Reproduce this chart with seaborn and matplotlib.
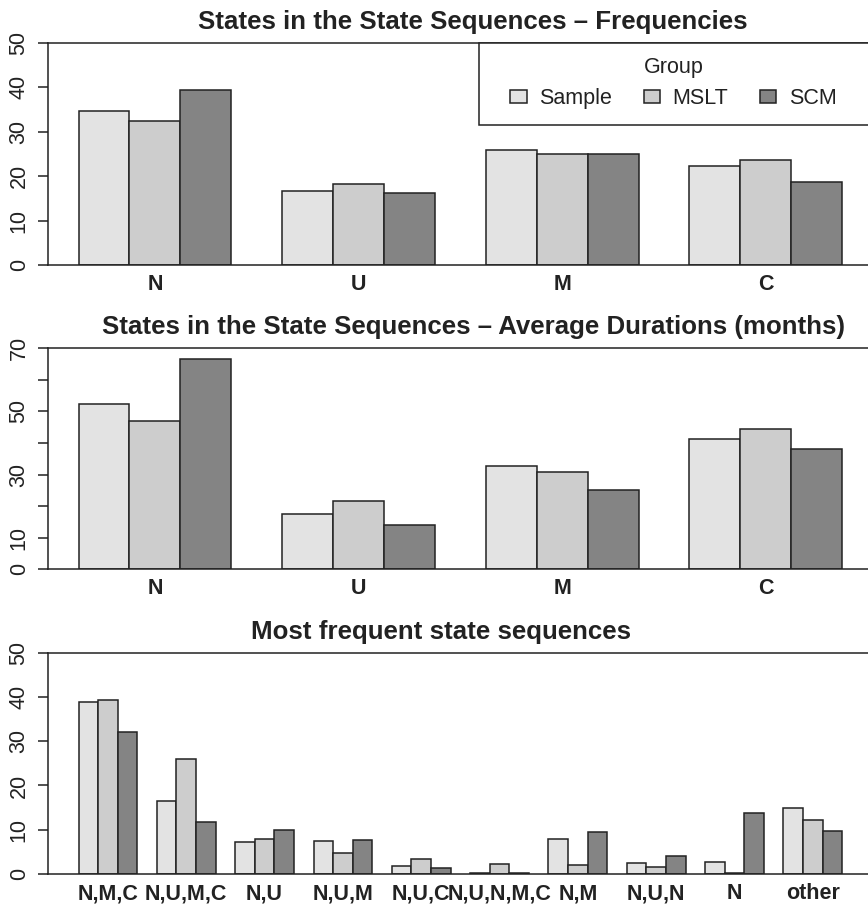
import numpy as np
import pandas as pd
import seaborn as sns
import matplotlib
matplotlib.use("Agg")
import matplotlib.pyplot as plt
from matplotlib.patches import Rectangle

# data
groups = ['Sample', 'MSLT', 'SCM']
colors = ['#e3e3e3', '#cdcdcd', '#848484']

states = ['N', 'U', 'M', 'C']
freq_sample = [34.7, 16.7, 26.0, 22.2]
freq_mslt = [32.5, 18.2, 25.1, 23.7]
freq_scm = [39.4, 16.3, 25.1, 18.8]

dur_sample = [52.3, 17.5, 32.7, 41.4]
dur_mslt = [46.9, 21.6, 30.8, 44.5]
dur_scm = [66.5, 14.1, 25.1, 38.0]

seqs = ['N,M,C', 'N,U,M,C', 'N,U', 'N,U,M', 'N,U,C', 'N,U,N,M,C', 'N,M', 'N,U,N', 'N', 'other']
seq_sample = [38.9, 16.4, 7.2, 7.4, 1.9, 0.2, 8.0, 2.4, 2.8, 14.8]
seq_mslt = [39.4, 26.0, 7.9, 4.8, 3.3, 2.3, 2.0, 1.5, 0.2, 12.3]
seq_scm = [32.1, 11.8, 9.9, 7.7, 1.4, 0.2, 9.6, 4.0, 13.7, 9.7]

freq_ticks = [0, 10, 20, 30, 40, 50]
dur_ticks = [0, 10, 20, 30, 40, 50, 60, 70]
dur_ticklabels = ['0', '10', '', '30', '', '50', '', '70']

sns.set_theme(style='ticks')
plt.rcParams['font.family'] = ['Liberation Sans', 'DejaVu Sans']

ink = '#222222'
W, H = 868, 910


def long_df(cats, a, b, c):
    rows = []
    for vals, g in zip([a, b, c], groups):
        for cat, v in zip(cats, vals):
            rows.append({'cat': cat, 'group': g, 'value': v})
    return pd.DataFrame(rows)


def panel(top_px, bottom_px, cats, a, b, c, ymax, ticks, ticklabels, title, title_x_px):
    left_px, right_px = 48, 872.7
    ax = fig.add_axes([left_px / W, 1 - bottom_px / H,
                       (right_px - left_px) / W, (bottom_px - top_px) / H])
    df = long_df(cats, a, b, c)
    sns.barplot(data=df, x='cat', y='value', hue='group', hue_order=groups,
                palette=colors, saturation=1, width=0.75, gap=0,
                edgecolor=ink, linewidth=1.1, ax=ax, legend=False)
    n = len(cats)
    # R barplot: 4% padding around the bar span
    pad = (4 * n - 1) * 0.04 / 4
    ax.set_xlim(-0.375 - pad, n - 1 + 0.375 + pad)
    ax.set_ylim(0, ymax)
    ax.set_xlabel('')
    ax.set_ylabel('')
    ax.set_yticks(ticks)
    ax.set_yticklabels(ticklabels)
    ax.tick_params(axis='y', length=7.2, width=1.1, color=ink, pad=6,
                   labelsize=15.5, labelrotation=90, labelcolor=ink)
    for lab in ax.get_yticklabels():
        lab.set_verticalalignment('center')
    ax.tick_params(axis='x', length=0, pad=6.5, labelsize=15.5, labelcolor=ink)
    for lab in ax.get_xticklabels():
        lab.set_fontweight('bold')
    for s in ['left', 'top', 'bottom']:
        ax.spines[s].set_color(ink)
        ax.spines[s].set_linewidth(1.1)
    ax.spines['right'].set_visible(False)
    ax.set_title(title, fontsize=18.6, fontweight='bold', color=ink, pad=10,
                 x=(title_x_px - left_px) / (right_px - left_px))
    return ax


fig = plt.figure(figsize=(W / 100, H / 100), dpi=100)

ax1 = panel(43, 265, states, freq_sample, freq_mslt, freq_scm, 50,
            freq_ticks, [str(t) for t in freq_ticks],
            'States in the State Sequences \u2013 Frequencies', 473)
ax2 = panel(348.3, 569.3, states, dur_sample, dur_mslt, dur_scm, 70,
            dur_ticks, dur_ticklabels,
            'States in the State Sequences \u2013 Average Durations (months)', 473)
ax3 = panel(652.7, 874, seqs, seq_sample, seq_mslt, seq_scm, 50,
            freq_ticks, [str(t) for t in freq_ticks],
            'Most frequent state sequences', 441)

# legend box in the first panel, running off the right edge like the original
bx0 = (479 - 48) / (872.7 - 48)
by0 = 1 - (125 - 43) / 222
ax1.add_patch(Rectangle((bx0, by0), 1.2 - bx0, 1 - by0, transform=ax1.transAxes,
                        facecolor='white', edgecolor=ink, linewidth=1.1,
                        clip_on=False, zorder=5))
handles = [Rectangle((0, 0), 1, 1, facecolor=c, edgecolor=ink, linewidth=1.1)
           for c in colors]
leg = ax1.legend(handles, groups, title='Group', ncol=3, frameon=False,
                 loc='center', bbox_to_anchor=((bx0 + 1.0) / 2 - 0.003, (by0 + 1) / 2 + 0.005),
                 fontsize=15.5, title_fontsize=15.5, handlelength=0.75,
                 handleheight=0.5, handletextpad=0.6, columnspacing=1.45)
leg.set_zorder(6)
for t in leg.get_texts():
    t.set_color(ink)
leg.get_title().set_color(ink)

fig.savefig('out.png', dpi=100)
